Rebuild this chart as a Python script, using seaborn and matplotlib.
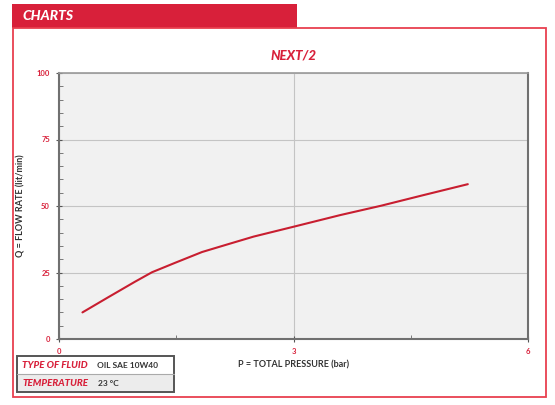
import matplotlib
matplotlib.use("Agg")
import matplotlib.pyplot as plt
import seaborn as sns
import pandas as pd
from matplotlib.patches import Rectangle
from matplotlib.ticker import MultipleLocator

pressure = [0.3, 0.63, 0.97, 1.19, 1.49, 1.83, 2.17, 2.49, 3.0, 3.6, 4.12, 4.65, 5.23]
flow = [10, 15.7, 21.5, 25.1, 28.7, 32.7, 35.7, 38.5, 42.2, 46.6, 50.1, 54.0, 58.2]
x_ticks = [0, 3, 6]
y_ticks = [0, 25, 50, 75, 100]
table_rows = [("TYPE OF FLUID", "OIL SAE 10W40"), ("TEMPERATURE", "23 °C")]

RED = "#d8203a"
LINE_RED = "#c81e30"
sns.set_style("white")
plt.rcParams['font.family'] = ['Lato', 'DejaVu Sans']

df = pd.DataFrame({"P": pressure, "Q": flow})

W, H = 555, 405
fig = plt.figure(figsize=(W / 100, H / 100), dpi=100)

def fx(px):
    return px / W

def fy(py):
    return 1 - py / H

# Header band
fig.patches.append(Rectangle((fx(12), fy(28)), fx(297) - fx(12), fy(4) - fy(28),
                             transform=fig.transFigure, facecolor=RED, edgecolor="none"))
fig.text(fx(22), fy(16), "CHARTS", color="white", fontsize=10, fontweight="black",
         fontstyle="italic", va="center", ha="left")
# Frame
fig.patches.append(Rectangle((fx(12.5), fy(397)), fx(546) - fx(12.5), fy(28) - fy(397),
                             transform=fig.transFigure, facecolor="none", edgecolor="#e8404f",
                             linewidth=1.3))

ax = fig.add_axes([fx(59), fy(339), fx(528) - fx(59), fy(73) - fy(339)])
ax.set_facecolor("#f1f1f1")
sns.lineplot(data=df, x="P", y="Q", ax=ax, color=LINE_RED, linewidth=1.5)
ax.set_xlim(0, 6)
ax.set_ylim(0, 100)
ax.set_xticks(x_ticks)
ax.set_yticks(y_ticks)
ax.xaxis.set_minor_locator(MultipleLocator(1.5))
ax.yaxis.set_minor_locator(MultipleLocator(5))
ax.grid(True, which="major", color="#c4c4c4", linewidth=0.8)
ax.set_axisbelow(True)
for side in ["left", "bottom", "right"]:
    ax.spines[side].set_color("#707070")
    ax.spines[side].set_linewidth(1.5)
ax.spines["top"].set_color("#9a9a9a")
ax.spines["top"].set_linewidth(1.2)
ax.tick_params(axis="both", which="major", direction="inout", length=5, width=0.8,
               color="#555555", labelcolor=RED, labelsize=5.5, pad=4)
ax.tick_params(axis="both", which="minor", direction="in", length=3, width=0.6,
               color="#666666")
ax.tick_params(axis="y", which="both", left=True)
ax.tick_params(axis="x", which="both", bottom=True)
for lab in ax.get_xticklabels() + ax.get_yticklabels():
    lab.set_fontweight("bold")
ax.set_xlabel("P = TOTAL PRESSURE (bar)", fontsize=6.5, color="#333333", fontweight="bold",
              labelpad=4)
ax.set_ylabel("Q = FLOW RATE (lit/min)", fontsize=6.5, color="#333333", fontweight="bold",
              labelpad=8)
ax.set_title("NEXT/2", color=RED, fontsize=9.5, fontweight="black", fontstyle="italic", pad=10)

# Table
tx0, tx1 = 17, 174
ty0, tmid, ty1 = 356, 374, 392
fig.patches.append(Rectangle((fx(tx0), fy(ty1)), fx(tx1) - fx(tx0), fy(tmid) - fy(ty1),
                             transform=fig.transFigure, facecolor="#ececec", edgecolor="none"))
fig.patches.append(Rectangle((fx(tx0), fy(ty1)), fx(tx1) - fx(tx0), fy(ty0) - fy(ty1),
                             transform=fig.transFigure, facecolor="none", edgecolor="#555555",
                             linewidth=1.4))
fig.lines.append(plt.Line2D([fx(tx0), fx(tx1)], [fy(tmid), fy(tmid)], transform=fig.transFigure,
                            color="#aaaaaa", linewidth=0.8))
row_y = [(ty0 + tmid) / 2, (tmid + ty1) / 2]
value_x = [97, 98]
for (lab, val), yy, vx in zip(table_rows, row_y, value_x):
    fig.text(fx(22), fy(yy), lab, color=RED, fontsize=7, fontweight="black", fontstyle="italic",
             va="center", ha="left")
    fig.text(fx(vx), fy(yy), val, color="#333333", fontsize=6, fontweight="bold",
             va="center", ha="left")

fig.savefig("out.png", dpi=100)
